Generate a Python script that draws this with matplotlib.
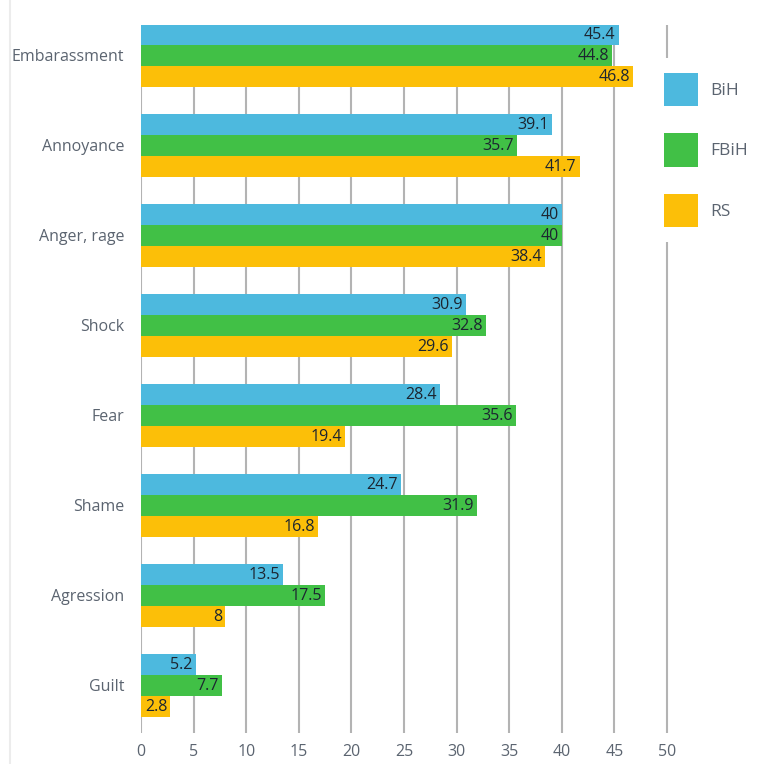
import matplotlib
matplotlib.use('Agg')
import matplotlib.pyplot as plt
from matplotlib.lines import Line2D
import numpy as np

plt.rcParams['font.family'] = ['Open Sans', 'DejaVu Sans']

categories = ['Embarassment', 'Annoyance', 'Anger, rage', 'Shock', 'Fear',
              'Shame', 'Agression', 'Guilt']
bih = [45.4, 39.1, 40, 30.9, 28.4, 24.7, 13.5, 5.2]
fbih = [44.8, 35.7, 40, 32.8, 35.6, 31.9, 17.5, 7.7]
rs = [46.8, 41.7, 38.4, 29.6, 19.4, 16.8, 8, 2.8]
series = [('BiH', bih, '#4db9de'), ('FBiH', fbih, '#41c046'), ('RS', rs, '#fcbf08')]

label_grey = '#5b6470'
value_col = '#1c2530'

fig = plt.figure(figsize=(7.68, 7.64), dpi=100)
ax = fig.add_axes([141 / 768, 1 - 733 / 764, (768 - 141) / 768, (733 - 25) / 764])

y = np.arange(len(categories))
bar_h = 21 / 90
offsets = [-bar_h, 0, bar_h]

for (name, vals, col), off in zip(series, offsets):
    bars = ax.barh(y + off, vals, height=bar_h, color=col, label=name, zorder=3)
    for b, v in zip(bars, vals):
        ax.text(b.get_width() - 0.3, b.get_y() + b.get_height() / 2 + 0.01, f'{v:g}',
                ha='right', va='center', fontsize=11.5, color=value_col, zorder=4)

ax.set_xlim(0, (768 - 141) / 10.52)
ax.set_ylim(7 + 48 / 90, -30 / 90)
ax.set_xticks(np.arange(0, 51, 5))
ax.set_yticks(y)
ax.set_yticklabels(categories)
ax.tick_params(axis='both', length=0, labelsize=11.5, labelcolor=label_grey)
ax.tick_params(axis='x', pad=8)
ax.tick_params(axis='y', pad=12)
ax.grid(axis='x', color='#b3b3b3', linewidth=1.5, zorder=0)
for s in ax.spines.values():
    s.set_visible(False)

leg = ax.legend(loc='upper left', bbox_to_anchor=(649 / 768, 1 - 58 / 764),
                bbox_transform=fig.transFigure, frameon=True, facecolor='white',
                edgecolor='none', framealpha=1, fontsize=12.5, labelcolor=label_grey,
                handlelength=2.0, handleheight=2.6, labelspacing=1.55,
                handletextpad=0.65, borderpad=0.85, borderaxespad=0)
leg.set_zorder(5)

# faint border line at the left edge
fig.add_artist(Line2D([10 / 768, 10 / 768], [0, 1], color='#ececec', linewidth=1.5,
                      transform=fig.transFigure))

fig.savefig('out.png', dpi=100)
